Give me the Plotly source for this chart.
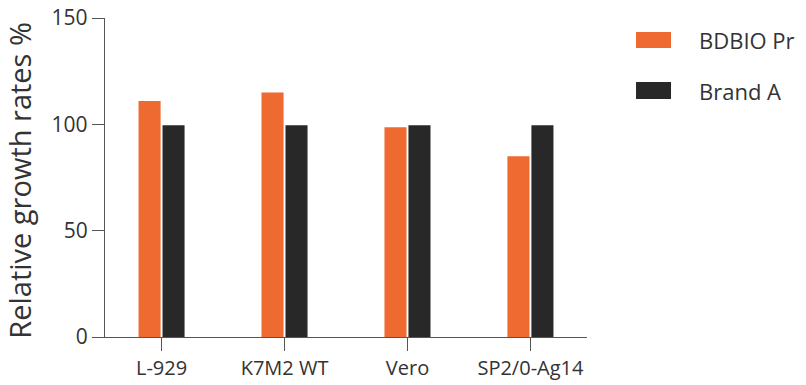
import plotly.graph_objects as go

categories = ["L-929", "K7M2 WT", "Vero", "SP2/0-Ag14"]
series_names = ["BDBIO Pr", "Brand A"]
bdbio_values = [111, 115, 98.6, 85]
brand_a_values = [99.6, 99.6, 99.6, 99.6]
y_ticks = [0, 50, 100, 150]
y_title = "Relative growth rates %"

colors = ["#EE6A30", "#282828"]
FONT = "Open Sans"
TXT = "#333333"

fig = go.Figure()
for name, vals, c in zip(series_names, [bdbio_values, brand_a_values], colors):
    fig.add_trace(go.Bar(x=categories, y=vals, name=name, marker=dict(color=c, line=dict(width=0)),
                         showlegend=False))

fig.update_layout(
    width=806, height=385,
    margin=dict(l=105, r=219, t=18, b=48, autoexpand=False),
    paper_bgcolor="white", plot_bgcolor="white",
    barmode="group", bargap=0.61, bargroupgap=0.08,
    font=dict(family=FONT, color=TXT),
)
fig.update_xaxes(showline=True, linecolor="#555555", linewidth=1.3, ticks="outside", ticklen=13,
                 tickcolor="#555555", tickwidth=1.3, tickfont=dict(size=20, family=FONT, color=TXT),
                 range=[-0.46, 3.46], showgrid=False, automargin=False)
fig.update_yaxes(showline=True, linecolor="#555555", linewidth=1.3, ticks="outside", ticklen=12,
                 tickcolor="#555555", tickwidth=1.3, tickfont=dict(size=21, family=FONT, color=TXT),
                 range=[0, 150], tickvals=y_ticks, showgrid=False, zeroline=False, automargin=False)

fig.add_annotation(xref="paper", yref="paper", x=-0.1763, y=0.49, text=y_title, textangle=-90,
                   showarrow=False, xanchor="center", yanchor="middle",
                   font=dict(size=29, family=FONT, color=TXT))

# custom legend
leg_y = [(0.956, 0.906), (0.799, 0.746)]
for (y1, y0), name, c in zip(leg_y, series_names, colors):
    fig.add_shape(type="rect", xref="paper", yref="paper", x0=1.1017, x1=1.1743, y0=y0, y1=y1,
                  fillcolor=c, line=dict(width=0))
    fig.add_annotation(xref="paper", yref="paper", x=1.2344, y=(y0 + y1) / 2, text=name, showarrow=False,
                       xanchor="left", yanchor="middle", xshift=-3,
                       font=dict(size=22, family=FONT, color=TXT))

fig.write_html("out.html")
